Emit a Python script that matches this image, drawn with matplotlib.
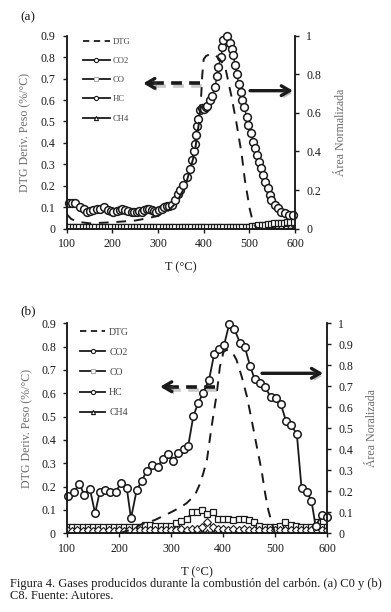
import matplotlib
matplotlib.use("Agg")
import matplotlib.pyplot as plt
import matplotlib.patheffects as pe
from matplotlib.lines import Line2D

plt.rcParams['font.family'] = ['Liberation Serif', 'DejaVu Serif']

# ---------------- panel (a) ----------------
T_dtg_a = [100, 110, 125, 150, 200, 250, 280, 300, 320, 340, 360, 380, 390, 394, 397, 400, 405,
           415, 425, 435, 447, 461, 472, 483, 490, 501, 508, 515, 530, 560, 600]
dtg_a = [0.068, 0.045, 0.032, 0.025, 0.030, 0.038, 0.050, 0.060, 0.080, 0.120, 0.200, 0.350, 0.500,
         0.600, 0.720, 0.790, 0.805, 0.815, 0.810, 0.790, 0.755, 0.615, 0.490, 0.350, 0.230, 0.090,
         0.030, 0.005, 0.0, 0.0, 0.0]

T_co2_a = [104, 112, 118, 129, 137, 145, 152, 158, 166, 173, 182, 191, 196, 202, 210, 216, 222, 228,
           235, 242, 248, 253, 258, 264, 270, 275, 281, 286, 291, 296, 302, 308, 314, 319, 325, 330,
           337, 344, 348, 355, 363, 370, 374, 378, 380, 383, 385, 388, 392, 397, 401, 405, 408, 414,
           419, 425, 429, 432, 438, 441, 443, 450, 457, 461, 464, 469, 472, 477, 482, 485, 489, 494,
           498, 503, 509, 512, 516, 521, 525, 530, 534, 540, 545, 548, 556, 563, 570, 578, 587, 596]
co2_a = [0.133, 0.135, 0.133, 0.111, 0.100, 0.087, 0.090, 0.096, 0.100, 0.104, 0.111, 0.096, 0.090,
         0.087, 0.093, 0.096, 0.100, 0.096, 0.090, 0.087, 0.085, 0.087, 0.090, 0.089, 0.095, 0.100,
         0.100, 0.096, 0.090, 0.087, 0.095, 0.104, 0.110, 0.117, 0.120, 0.125, 0.147, 0.180, 0.200,
         0.226, 0.270, 0.310, 0.356, 0.400, 0.440, 0.485, 0.530, 0.570, 0.615, 0.625, 0.620, 0.630,
         0.636, 0.667, 0.690, 0.735, 0.790, 0.840, 0.890, 0.940, 0.980, 1.000, 0.960, 0.930, 0.900,
         0.850, 0.800, 0.750, 0.710, 0.667, 0.630, 0.580, 0.537, 0.494, 0.450, 0.416, 0.380, 0.347,
         0.313, 0.278, 0.243, 0.210, 0.175, 0.149, 0.123, 0.106, 0.088, 0.080, 0.071, 0.071]

T_co_a = [100, 107, 114, 121, 128, 135, 142, 149, 156, 163, 170, 177, 184, 191, 198, 205, 212, 219,
          226, 233, 240, 247, 254, 261, 268, 275, 282, 289, 296, 303, 310, 317, 324, 331, 338, 345,
          352, 359, 366, 373, 380, 387, 394, 401, 408, 415, 422, 429, 436, 443, 450, 457, 464, 471,
          478, 485, 492, 499, 506, 513, 520, 527, 534, 541, 548, 555, 562, 569, 576, 583, 590, 597]
co_a = [0.010, 0.011, 0.010, 0.011, 0.010, 0.010, 0.009, 0.010, 0.009, 0.010, 0.009, 0.009, 0.009,
        0.009, 0.009, 0.009, 0.009, 0.009, 0.009, 0.009, 0.009, 0.009, 0.009, 0.009, 0.009, 0.009,
        0.009, 0.009, 0.009, 0.009, 0.009, 0.009, 0.009, 0.009, 0.009, 0.009, 0.009, 0.009, 0.009,
        0.009, 0.010, 0.010, 0.010, 0.011, 0.011, 0.011, 0.010, 0.010, 0.010, 0.010, 0.010, 0.010,
        0.010, 0.010, 0.010, 0.010, 0.011, 0.011, 0.012, 0.014, 0.017, 0.019, 0.021, 0.023, 0.025,
        0.027, 0.029, 0.031, 0.032, 0.034, 0.035, 0.036]

T_hc_a = [100, 120, 140, 160, 180, 200, 220, 240, 260, 280, 300, 320, 340, 360, 380, 400, 420, 440,
          460, 480, 500, 510, 520, 530, 540, 550, 560, 570, 580, 590, 600]
hc_a = [0.005, 0.004, 0.004, 0.004, 0.004, 0.004, 0.004, 0.004, 0.004, 0.004, 0.004, 0.004, 0.004,
        0.004, 0.005, 0.005, 0.005, 0.005, 0.005, 0.005, 0.005, 0.005, 0.006, 0.006, 0.007, 0.007,
        0.008, 0.008, 0.009, 0.009, 0.010]
ch4_a = [0.002, 0.002, 0.002, 0.002, 0.002, 0.002, 0.002, 0.002, 0.002, 0.002, 0.002, 0.002, 0.002,
         0.002, 0.002, 0.002, 0.002, 0.002, 0.002, 0.002, 0.002, 0.003, 0.004, 0.004, 0.005, 0.005,
         0.006, 0.006, 0.006, 0.007, 0.007]

# ---------------- panel (b) ----------------
T_dtg_b = [100, 200, 230, 240, 269, 298, 317, 330, 346, 356, 362, 369, 378, 388, 394, 401, 407,
           417, 426, 436, 446, 455, 465, 474, 481, 487, 494, 500, 550, 600]
dtg_b = [0.0, 0.0, 0.02, 0.036, 0.057, 0.088, 0.110, 0.129, 0.164, 0.214, 0.257, 0.314, 0.457,
         0.600, 0.714, 0.778, 0.786, 0.780, 0.743, 0.671, 0.586, 0.486, 0.371, 0.271, 0.171, 0.100,
         0.043, 0.0, 0.0, 0.0]

T_co2_b = [102, 113, 124, 133, 144, 154, 163, 173, 183, 194, 204, 215, 223, 234, 244, 253, 263, 274,
           284, 294, 304, 314, 324, 333, 343, 352, 362, 373, 383, 393, 402, 412, 422, 433, 442, 452,
           461, 471, 481, 492, 501, 511, 521, 531, 542, 551, 561, 570, 578, 590, 599]
co2_b = [0.178, 0.198, 0.235, 0.183, 0.211, 0.095, 0.198, 0.205, 0.198, 0.198, 0.241, 0.214, 0.071,
         0.206, 0.250, 0.298, 0.325, 0.317, 0.352, 0.378, 0.344, 0.384, 0.400, 0.416, 0.559, 0.619,
         0.670, 0.730, 0.854, 0.876, 0.897, 0.997, 0.971, 0.905, 0.886, 0.797, 0.733, 0.717, 0.695,
         0.648, 0.643, 0.616, 0.536, 0.516, 0.471, 0.214, 0.198, 0.155, 0.035, 0.087, 0.076]

T_b = [100, 110, 120, 130, 140, 150, 160, 170, 180, 190, 200, 210, 220, 230, 240, 250, 260, 270,
       280, 290, 300, 310, 320, 330, 340, 350, 360, 370, 380, 390, 400, 410, 420, 430, 440, 450,
       460, 470, 480, 490, 500, 510, 520, 530, 540, 550, 560, 570, 580, 590, 600]
co_b = [0.030, 0.030, 0.030, 0.030, 0.030, 0.030, 0.030, 0.030, 0.030, 0.030, 0.028, 0.028, 0.028,
        0.030, 0.032, 0.038, 0.040, 0.035, 0.035, 0.035, 0.035, 0.050, 0.060, 0.070, 0.100, 0.100,
        0.110, 0.090, 0.100, 0.070, 0.070, 0.070, 0.063, 0.070, 0.070, 0.063, 0.055, 0.035, 0.030,
        0.030, 0.030, 0.035, 0.055, 0.040, 0.035, 0.030, 0.030, 0.030, 0.055, 0.030, 0.030]
hc_b = [0.015, 0.012, 0.016, 0.012, 0.015, 0.012, 0.016, 0.012, 0.015, 0.012, 0.015, 0.012, 0.016,
        0.013, 0.018, 0.015, 0.018, 0.015, 0.018, 0.015, 0.018, 0.015, 0.020, 0.018, 0.022, 0.020,
        0.030, 0.055, 0.030, 0.022, 0.020, 0.018, 0.020, 0.018, 0.020, 0.018, 0.018, 0.016, 0.018,
        0.016, 0.018, 0.016, 0.018, 0.016, 0.018, 0.016, 0.018, 0.016, 0.018, 0.016, 0.018]
ch4_b = [0.005, 0.004, 0.005, 0.004, 0.005, 0.004, 0.005, 0.004, 0.005, 0.004, 0.005, 0.004, 0.005,
         0.004, 0.005, 0.004, 0.005, 0.004, 0.005, 0.004, 0.005, 0.004, 0.005, 0.004, 0.005, 0.004,
         0.006, 0.006, 0.005, 0.004, 0.005, 0.004, 0.005, 0.004, 0.005, 0.004, 0.005, 0.004, 0.005,
         0.004, 0.005, 0.004, 0.005, 0.004, 0.005, 0.004, 0.005, 0.004, 0.005, 0.004, 0.005]

legend_labels = ['DTG', 'CO2', 'CO', 'HC', 'CH4']

ink = '#1a1a1a'
grey_lbl = '#6b6b6b'


def style_axes(ax, axr, rticks, rlabels, fs):
    for a in (ax, axr):
        a.spines['top'].set_visible(False)
        for s in ('left', 'right', 'bottom'):
            a.spines[s].set_linewidth(1.1)
            a.spines[s].set_color(ink)
    ax.set_xlim(100, 600)
    ax.set_ylim(0, 0.9)
    axr.set_ylim(0, 1)
    ax.set_xticks([100, 200, 300, 400, 500, 600])
    ax.set_yticks([0, 0.1, 0.2, 0.3, 0.4, 0.5, 0.6, 0.7, 0.8, 0.9])
    ax.set_yticklabels(['0', '0.1', '0.2', '0.3', '0.4', '0.5', '0.6', '0.7', '0.8', '0.9'])
    axr.set_yticks(rticks)
    axr.set_yticklabels(rlabels)
    ax.tick_params(axis='both', direction='out', length=3, width=1, labelsize=fs, colors=ink, pad=4)
    ax.tick_params(axis='y', pad=5)
    axr.tick_params(axis='y', direction='out', length=3, width=1, labelsize=fs, colors=ink, pad=5)


def arrows(ax, dashed, solid):
    sh = [pe.SimpleLineShadow(offset=(1.5, -2), shadow_color='#888888', alpha=0.45), pe.Normal()]
    (x0, x1, y) = dashed
    ax.plot([x0, x1 + 0.03], [y, y], transform=ax.transAxes, color=ink, lw=2.6,
            ls=(0, (3, 2)), solid_capstyle='butt', path_effects=sh, clip_on=False, zorder=6)
    ax.annotate('', xy=(x1, y), xytext=(x1 + 0.045, y), xycoords='axes fraction',
                arrowprops=dict(arrowstyle='->,head_length=0.6,head_width=0.35', lw=2.4, color=ink,
                                shrinkA=0, shrinkB=0,
                                path_effects=[pe.withSimplePatchShadow(offset=(1.5, -2), alpha=0.35)]),
                zorder=6)
    (x0, x1, y) = solid
    ax.annotate('', xy=(x1, y), xytext=(x0, y), xycoords='axes fraction',
                arrowprops=dict(arrowstyle='->,head_length=0.6,head_width=0.35', lw=2.4, color=ink,
                                shrinkA=0, shrinkB=0,
                                path_effects=[pe.withSimplePatchShadow(offset=(1.5, -2), alpha=0.35)]),
                zorder=6)


def make_legend(ax, fs, anchor, hlen, lspace):
    h = [Line2D([], [], color=ink, lw=1.3, ls=(0, (3.5, 2.5))),
         Line2D([], [], color=ink, lw=1.3, marker='o', ms=3, mfc='white', mec=ink, mew=0.8),
         Line2D([], [], color=ink, lw=1.3, marker='s', ms=3, mfc='white', mec='#aaaaaa', mew=0.8),
         Line2D([], [], color=ink, lw=1.3, marker='o', ms=3, mfc='white', mec=ink, mew=0.8),
         Line2D([], [], color=ink, lw=1.3, marker='^', ms=3, mfc='white', mec=ink, mew=0.8)]
    leg = ax.legend(h, legend_labels, loc='upper left', bbox_to_anchor=anchor, frameon=False,
                    fontsize=fs, handlelength=hlen, handletextpad=0.4, labelspacing=lspace,
                    borderpad=0, borderaxespad=0, labelcolor='#444444')
    leg.set_zorder(7)


fig = plt.figure(figsize=(3.91, 6.12), dpi=100)

# ---- (a)
ax1 = fig.add_axes([0.1706, 0.6263, 0.5839, 0.3154])
ax1r = ax1.twinx()
style_axes(ax1, ax1r, [0, 0.2, 0.4, 0.6, 0.8, 1.0], ['0', '0.2', '0.4', '0.6', '0.8', '1'], 8.6)
ax1.plot(T_dtg_a, dtg_a, color=ink, lw=1.4, ls=(0, (5, 4)), zorder=5)
ax1r.plot(T_hc_a, ch4_a, color=ink, lw=0.8, marker='^', ms=3, mfc='white', mec=ink, mew=0.7)
ax1r.plot(T_hc_a, hc_a, color=ink, lw=0.8, marker='D', ms=2.5, mfc='white', mec=ink, mew=0.7)
ax1r.plot(T_co_a, co_a, color=ink, lw=0.8, marker='s', ms=4.8, mfc='white', mec=ink, mew=0.9)
ax1r.plot(T_co2_a, co2_a, color=ink, lw=1.0, marker='o', ms=5.6, mfc='white', mec=ink, mew=1.1,
          clip_on=False)
ax1.set_zorder(ax1r.get_zorder() + 1)
ax1.patch.set_visible(False)
ax1.set_ylabel('DTG Deriv. Peso (%/°C)', fontsize=8.6, color=grey_lbl)
ax1.yaxis.set_label_coords(-0.156, 0.5)
ax1r.set_ylabel('Área Normalizada', fontsize=8.6, color=grey_lbl)
ax1r.yaxis.set_label_coords(1.175, 0.5)
ax1.set_xlabel('T (°C)', fontsize=8.8, color=ink)
ax1.xaxis.set_label_coords(0.5, -0.171)
arrows(ax1, (0.584, 0.335, 0.753), (0.803, 0.991, 0.715))
make_legend(ax1, 6.2, (0.071, 0.99), 3.1, 1.3)

# ---- (b)
ax2 = fig.add_axes([0.1714, 0.1286, 0.665, 0.3431])
ax2r = ax2.twinx()
style_axes(ax2, ax2r, [0, 0.1, 0.2, 0.3, 0.4, 0.5, 0.6, 0.7, 0.8, 0.9, 1.0],
           ['0', '0.1', '0.2', '0.3', '0.4', '0.5', '0.6', '0.7', '0.8', '0.9', '1'], 8.6)
ax2.plot(T_dtg_b, dtg_b, color=ink, lw=1.4, ls=(0, (5, 4)), zorder=5)
ax2r.plot(T_b, co_b, color=ink, lw=0.8, marker='s', ms=4.8, mfc='white', mec=ink, mew=0.9)
ax2r.plot(T_b, ch4_b, color=ink, lw=0.8, marker='^', ms=4, mfc='white', mec=ink, mew=0.8)
ax2r.plot(T_b, hc_b, color=ink, lw=0.8, marker='D', ms=3.6, mfc='white', mec=ink, mew=0.8)
ax2r.plot(T_co2_b, co2_b, color=ink, lw=1.3, marker='o', ms=5.4, mfc='white', mec=ink, mew=1.1,
          clip_on=False)
ax2.set_zorder(ax2r.get_zorder() + 1)
ax2.patch.set_visible(False)
ax2.set_ylabel('DTG Deriv. Peso (%/°C)', fontsize=8.6, color=grey_lbl)
ax2.yaxis.set_label_coords(-0.131, 0.5)
ax2r.set_ylabel('Área Noralizada', fontsize=8.6, color=grey_lbl)
ax2r.yaxis.set_label_coords(1.15, 0.5)
ax2.set_xlabel('T (°C)', fontsize=9, color=ink)
ax2.xaxis.set_label_coords(0.5, -0.159)
arrows(ax2, (0.569, 0.358, 0.698), (0.75, 0.985, 0.762))
make_legend(ax2, 7, (0.05, 0.98), 2.6, 1.15)

fig.text(20 / 391, 1 - 17 / 612, '(a)', fontsize=9.5, ha='left', va='center', color=ink)
fig.text(20 / 391, 1 - 311 / 612, '(b)', fontsize=9.5, ha='left', va='center', color=ink)
fig.text(10 / 391, 1 - 584 / 612,
         'Figura 4. Gases producidos durante la combustión del carbón. (a) C0 y (b)',
         fontsize=9, ha='left', va='center', color=ink)
fig.text(10 / 391, 1 - 596 / 612, 'C8. Fuente: Autores.', fontsize=9, ha='left', va='center',
         color=ink)

fig.savefig('out.png', dpi=100)
